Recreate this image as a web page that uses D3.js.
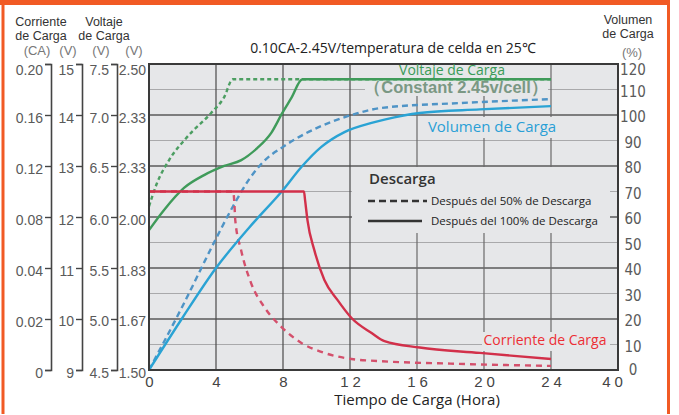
<!DOCTYPE html>
<html>
<head>
<meta charset="utf-8">
<script src="https://cdn.jsdelivr.net/npm/d3@7"></script>
<style>
  body { margin: 0; background: #fff; }
  svg { display: block; }
</style>
</head>
<body>
<div id="chart"></div>
<script>
// ---- data ----
const hourTicks = [0, 4, 8, 12, 16, 20, 24, 40];
const pctTicks = [0, 10, 20, 30, 40, 50, 60, 70, 80, 90, 100, 110, 120];
const currentTicks = [0, 0.02, 0.04, 0.08, 0.12, 0.16, 0.20];
const currentLabels = ["0", "0.02", "0.04", "0.08", "0.12", "0.16", "0.20"];
const cellTicks = [1.5, 1.6667, 1.8333, 2.0, 2.1667, 2.3333, 2.5];
const cellLabels = ["1.50", "1.67", "1.83", "2.00", "2.33", "2.33", "2.50"];
const volt12Labels = ["9", "10", "11", "12", "13", "14", "15"];
const volt6Labels = ["4.5", "5.0", "5.5", "6.0", "6.5", "7.0", "7.5"];

// [hour, V/cell]
const voltage100 = [[0, 1.957], [0.9, 2.023], [2.09, 2.095], [3.29, 2.137], [4.49, 2.167], [5.51, 2.186],
  [6.46, 2.225], [7.3, 2.275], [7.96, 2.34], [8.5, 2.389], [9.16, 2.45], [24, 2.45]];
const voltage50 = [[0, 2.035], [0.48, 2.111], [1.2, 2.186], [2.27, 2.261], [3.71, 2.34], [4.49, 2.392],
  [5.0, 2.45], [24, 2.45]];
// [hour, %]
const volume100 = [[0, 0], [2, 20.5], [4, 40], [6, 56], [8, 70.6], [9.1, 79.6], [10.29, 87.5],
  [11.67, 93.3], [13.29, 96.9], [14.06, 98.2], [16.16, 100.8], [19.75, 102.2], [24, 103.5]];
const volume50 = [[0, 0], [2, 25], [4, 51.5], [5, 64], [6, 75], [6.8, 81.5],
  [8, 87.5], [9.3, 92.6], [10.9, 97.3], [12.4, 100.6], [13.8, 102.7], [18.6, 104.7], [24, 106.2]];
// [hour, CA]
const current100 = [[0, 0.10], [9.25, 0.10], [9.32, 0.093], [9.46, 0.0776], [9.87, 0.054], [10.47, 0.0353],
  [11.25, 0.0275], [12.09, 0.0204], [13.29, 0.0145], [14.06, 0.0113], [16.16, 0.0088], [19.75, 0.0067], [24, 0.0043]];
const current50 = [[0, 0.10], [5.03, 0.10], [5.1, 0.09], [5.15, 0.0776], [5.5, 0.054], [6.1, 0.034],
  [6.88, 0.0247], [7.9, 0.0169], [9.1, 0.0106], [10.47, 0.0067], [12.09, 0.0043], [13.7, 0.0035],
  [18, 0.0025], [24, 0.0016]];

const W = 679, H = 415;
const pLeft = 149, pRight = 618, pTop = 64, pBottom = 370;
const plotBg = "#e6e7e9";

const svg = d3.select("#chart").append("svg")
  .attr("width", W).attr("height", H)
  .style("font-family", "'Liberation Sans', Arial, sans-serif");

// orange frame
svg.append("rect").attr("x", 0).attr("y", 0).attr("width", 670).attr("height", 5).attr("fill", "#f15a24");
svg.append("rect").attr("x", 1.5).attr("y", 0).attr("width", 3).attr("height", 414).attr("fill", "#f15a24");
svg.append("rect").attr("x", 667).attr("y", 0).attr("width", 3).attr("height", 414).attr("fill", "#f15a24");

// scales
const x = d3.scaleLinear().domain([0, 24, 40]).range([pLeft, pLeft + (pRight - pLeft) * 24 / 28, pRight]);
const yPct = d3.scaleLinear().domain([0, 120]).range([pBottom, pTop]);
const yVolt = d3.scaleLinear().domain([1.5, 2.5]).range([pBottom, pTop]);
const yCur = d3.scaleLinear().domain(currentTicks)
  .range(currentTicks.map((d, i) => pBottom - i * (pBottom - pTop) / 6));

// plot background + grid
svg.append("rect").attr("x", pLeft).attr("y", pTop).attr("width", pRight - pLeft).attr("height", pBottom - pTop)
  .attr("fill", plotBg);

const grid = svg.append("g");
grid.selectAll("line.h").data(pctTicks.filter(d => d > 0 && d < 120)).join("line")
  .attr("x1", pLeft).attr("x2", pRight)
  .attr("y1", d => yPct(d)).attr("y2", d => yPct(d))
  .attr("stroke", d => d % 20 === 0 ? "#5a5a5a" : "#a9a9ab")
  .attr("stroke-width", d => d % 20 === 0 ? 1.4 : 1);
grid.selectAll("line.v").data(hourTicks.filter(d => d > 0 && d < 40)).join("line")
  .attr("x1", d => x(d)).attr("x2", d => x(d))
  .attr("y1", pTop).attr("y2", pBottom)
  .attr("stroke", d => d <= 12 ? "#4a4a4a" : "#6a6a6a")
  .attr("stroke-width", 1.2);

// label / legend backgrounds hiding the grid
const boxes = [[365, 65, 183, 31], [425, 117, 134, 21], [482, 332, 128, 19], [352, 167, 258, 66]];
svg.append("g").selectAll("rect").data(boxes).join("rect")
  .attr("x", d => d[0]).attr("y", d => d[1]).attr("width", d => d[2]).attr("height", d => d[3])
  .attr("fill", plotBg);

// curves
const lineOf = (ys) => d3.line().x(d => x(d[0])).y(d => ys(d[1])).curve(d3.curveMonotoneX);
const curves = [
  { data: voltage50, y: yVolt, color: "#4c9e62", dash: "4,3" },
  { data: volume50, y: yPct, color: "#4f94c6", dash: "6,4" },
  { data: current50, y: yCur, color: "#d4506c", dash: "6,5" },
  { data: voltage100, y: yVolt, color: "#3f9b5a", dash: null },
  { data: volume100, y: yPct, color: "#2aa3d4", dash: null },
  { data: current100, y: yCur, color: "#d2304a", dash: null }
];
svg.append("g").selectAll("path").data(curves).join("path")
  .attr("d", d => lineOf(d.y)(d.data))
  .attr("fill", "none")
  .attr("stroke", d => d.color)
  .attr("stroke-width", 2.4)
  .attr("stroke-dasharray", d => d.dash);

// frame
svg.append("rect").attr("x", pLeft).attr("y", pTop).attr("width", pRight - pLeft).attr("height", pBottom - pTop)
  .attr("fill", "none").attr("stroke", "#3a3a3a").attr("stroke-width", 2);

// left axes columns
function column(scale, ticks, labels, xPos, size) {
  const g = svg.append("g").attr("transform", `translate(${xPos},0)`)
    .call(d3.axisLeft(scale).tickValues(ticks).tickFormat((d, i) => labels[i])
      .tickSize(size).tickSizeOuter(size).tickPadding(2));
  g.select(".domain").attr("stroke", "#444").attr("stroke-width", 1.6);
  g.selectAll(".tick line").attr("stroke", "#444").attr("stroke-width", 1.4);
  g.selectAll(".tick text").attr("fill", "#5a5a5a").attr("font-size", 14)
    .attr("dy", (d, i) => i === ticks.length - 1 ? "0.75em" : "0.5em")
    .style("font-family", "'Liberation Sans', Arial, sans-serif");
  return g;
}
column(yCur, currentTicks, currentLabels, 51, 6);
column(yVolt, cellTicks, volt12Labels, 82, 6);
column(yVolt, cellTicks, volt6Labels, 117, 6);
const c4 = column(yVolt, cellTicks, cellLabels, 149, 0);
c4.select(".domain").remove();
c4.selectAll(".tick text").attr("x", -3);

// right axis
const ra = svg.append("g").attr("transform", `translate(${pRight},0)`)
  .call(d3.axisRight(yPct).tickValues(pctTicks).tickSize(0));
ra.select(".domain").remove();
ra.selectAll(".tick text").attr("x", 15).attr("text-anchor", "middle")
  .attr("dy", d => d === 120 ? "0.72em" : d === 0 ? "0.3em" : "0.45em")
  .attr("fill", "#5a5a5a").attr("font-size", 15)
  .style("font-family", "'Liberation Sans Narrow', 'DejaVu Sans Condensed', Arial, sans-serif");

// bottom axis
const xa = svg.append("g").attr("transform", `translate(0,${pBottom})`)
  .call(d3.axisBottom(x).tickValues(hourTicks).tickSize(0).tickPadding(6));
xa.select(".domain").remove();
xa.selectAll(".tick text").attr("fill", "#444").attr("font-size", 15)
  .style("letter-spacing", "4px").attr("dx", d => d === 40 ? -4 : 2)
  .style("font-family", "'Liberation Sans', Arial, sans-serif");

// header texts
const hdr = (t, xx, yy, opts = {}) => svg.append("text").attr("x", xx).attr("y", yy)
  .attr("text-anchor", opts.anchor || "middle")
  .attr("font-size", opts.size || 12.5)
  .attr("fill", opts.color || "#333")
  .attr("font-weight", opts.weight || "normal")
  .style("font-family", opts.family || "'Open Sans', sans-serif")
  .text(t);

const headFont = { size: 12.5, family: "'Liberation Sans', Arial, sans-serif" };
hdr("Corriente", 41, 26, headFont);
hdr("de Carga", 41, 40, headFont);
hdr("Voltaje", 104, 26, headFont);
hdr("de Carga", 104, 40, headFont);
hdr("(CA)", 37, 55, { color: "#777", size: 13, family: "'Liberation Sans', Arial" });
hdr("(V)", 68, 55, { color: "#777", size: 13, family: "'Liberation Sans', Arial" });
hdr("(V)", 101, 55, { color: "#777", size: 13, family: "'Liberation Sans', Arial" });
hdr("(V)", 134, 55, { color: "#777", size: 13, family: "'Liberation Sans', Arial" });
hdr("Volumen", 628, 24, headFont);
hdr("de Carga", 628, 38, headFont);
hdr("(%)", 632, 57, { color: "#777", size: 13, family: "'Liberation Sans', Arial" });

hdr("0.10CA-2.45V/temperatura de celda en 25℃", 393, 53, { size: 14, color: "#222" });
hdr("Tiempo de Carga (Hora)", 417, 405, { size: 15, color: "#222" });

// curve labels
hdr("Voltaje de Carga", 452, 75, { size: 14, color: "#3a9b58" });
hdr("（Constant 2.45v/cell）", 456, 93, { size: 16.5, color: "#7b9884", weight: "bold", family: "'Liberation Sans', Arial" });
hdr("Volumen de Carga", 492, 132, { size: 15, color: "#2a9fd6" });
hdr("Corriente de Carga", 545, 345, { size: 14, color: "#ec2f35" });

// legend
hdr("Descarga", 369, 184, { anchor: "start", size: 15, color: "#333", weight: 600 });
const legendItems = [{ y: 201, dash: "7,4", label: "Después del 50% de Descarga" },
                     { y: 221, dash: null, label: "Después del 100% de Descarga" }];
legendItems.forEach(d => {
  svg.append("line").attr("x1", 368).attr("x2", d.dash ? 427 : 422).attr("y1", d.y).attr("y2", d.y)
    .attr("stroke", "#333").attr("stroke-width", 2.4).attr("stroke-dasharray", d.dash);
  hdr(d.label, 431, d.y + 4, { anchor: "start", size: 11.5, color: "#222" });
});
</script>
</body>
</html>
